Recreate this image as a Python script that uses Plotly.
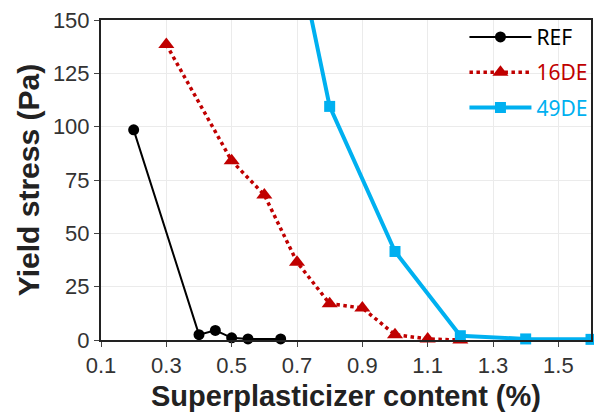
import plotly.graph_objects as go

ref_x = [0.2, 0.4, 0.45, 0.5, 0.55, 0.65]
ref_y = [98.5, 2.5, 4.5, 1.0, 0.5, 0.5]

de16_x = [0.3, 0.5, 0.6, 0.7, 0.8, 0.9, 1.0, 1.1, 1.2]
de16_y = [138.5, 84, 68, 36.5, 17, 15, 2.5, 0.5, 0.0]

de49_x = [0.7, 0.8, 1.0, 1.2, 1.4, 1.6]
de49_y = [183, 109.5, 41.5, 2.0, 0.5, 0.3]

x_ticks = [0.1, 0.3, 0.5, 0.7, 0.9, 1.1, 1.3, 1.5]
y_ticks = [0, 25, 50, 75, 100, 125, 150]

fig = go.Figure()
fig.add_trace(go.Scatter(x=ref_x, y=ref_y, mode="lines+markers",
                         name="<span style='color:#000000'>REF</span>", legendgroup="a",
                         line=dict(color="#000000", width=2),
                         marker=dict(symbol="circle", size=11, color="#000000"),
                         cliponaxis=False))
fig.add_trace(go.Scatter(x=de16_x, y=de16_y, mode="lines+markers",
                         name="<span style='color:#C00000'>16DE</span>", legendgroup="b",
                         line=dict(color="#C00000", width=3.5, dash="dot"),
                         marker=dict(symbol="triangle-up", size=14, color="#C00000"),
                         cliponaxis=False))
fig.add_trace(go.Scatter(x=de49_x, y=de49_y, mode="lines+markers",
                         name="<span style='color:#00B0F0'>49DE</span>", legendgroup="c",
                         line=dict(color="#00B0F0", width=4),
                         marker=dict(symbol="square", size=11, color="#00B0F0"),
                         cliponaxis=False))

fig.update_layout(
    width=594, height=416,
    margin=dict(l=101, r=1, t=20, b=76),
    plot_bgcolor="white", paper_bgcolor="white",
    font=dict(family="Liberation Sans, Arial, sans-serif", color="#222222"),
    legend=dict(x=1.005, y=1.01, xanchor="right", yanchor="top",
                bgcolor="rgba(0,0,0,0)", itemwidth=62,
                font=dict(family="Noto Sans, Calibri, sans-serif", size=21),
                traceorder="grouped", tracegroupgap=5),
    showlegend=True,
)
fig.update_xaxes(range=[0.1, 1.6], tickvals=x_ticks,
                 ticktext=[str(v) for v in x_ticks],
                 showgrid=True, gridcolor="#ebebeb", gridwidth=1,
                 showline=True, linecolor="#222222", linewidth=2, mirror=True,
                 ticks="outside", ticklen=5, tickcolor="#444444",
                 tickfont=dict(size=22, color="#333333"),
                 zeroline=False,
                 title=dict(text="<b>Superplasticizer content (%)</b>",
                            font=dict(size=29, color="#222222"), standoff=8))
fig.update_yaxes(range=[0, 150], tickvals=y_ticks,
                 showgrid=True, gridcolor="#ebebeb", gridwidth=1,
                 showline=True, linecolor="#222222", linewidth=2, mirror=True,
                 ticks="outside", ticklen=5, tickcolor="#444444",
                 tickfont=dict(size=22, color="#333333"),
                 zeroline=False,
                 title=dict(text="<b>Yield stress (Pa)</b>",
                            font=dict(size=30, color="#222222"), standoff=4))

fig.write_html("out.html")
